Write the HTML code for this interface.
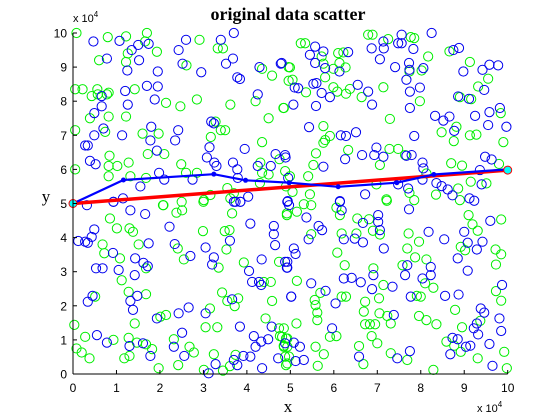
<!DOCTYPE html>
<html><head><meta charset="utf-8"><style>
body{margin:0;background:#fff;width:560px;height:420px;overflow:hidden}
svg{display:block}
</style></head><body>
<svg id="chart" width="560" height="420" xmlns="http://www.w3.org/2000/svg" font-family="Liberation Sans, sans-serif">
<rect width="560" height="420" fill="#fff"/>
<text x="288" y="20" text-anchor="middle" font-family="Liberation Serif, serif" font-weight="bold" font-size="18">original data scatter</text>
<text x="288" y="412" text-anchor="middle" font-family="Liberation Serif, serif" font-size="17">x</text>
<text x="46" y="202" text-anchor="middle" font-family="Liberation Serif, serif" font-size="17">y</text>
<text x="73" y="22" font-size="11">x 10<tspan dy="-5" font-size="8">4</tspan></text>
<text x="477" y="412" font-size="11">x 10<tspan dy="-5" font-size="8">4</tspan></text>
<g id="marks"></g>
<g id="axes"></g>
</svg>
<script>
const xTicks=[0,1,2,3,4,5,6,7,8,9,10];
const yTicks=[0,1,2,3,4,5,6,7,8,9,10];
const blueX=[0.47,1.07,0.78,1.25,1.35,1.5,1.74,1.52,1.95,1.2,1.26,1.7,1.95,1.88,0.66,0.66,0.49,0.7,0.49,0.28,0.34,0.39,0.52,1.13,1.8,1.78,1.93,2.42,2.35,1.98,2.1,1.55,1.15,0.93,0.32,2.43,2.6,2.52,2.95,3.4,3.7,3.52,3.68,3.78,3.84,4.25,4.29,4.78,3.95,3.14,3.18,3.24,3.08,3.25,3.3,3.68,3.78,3.79,4.25,4.55,4.66,4.89,3.7,3.85,4.03,2.75,4.93,
8.25,7.56,7.56,7.48,7.14,7.15,6.87,7.83,7.73,7.74,7.41,7.06,8.06,7.67,7.75,7.98,7.75,6.88,6.79,6.55,5.91,5.72,5.6,5.53,5.18,5.1,5.07,5.59,5.57,5.45,5.57,5.76,6.13,5.8,6.33,4.8,8.75,8.88,8.98,9.42,9.58,9.78,9.46,8.86,9.11,9.58,9.82,9.25,9.55,9.97,8.33,8.52,8.66,8.77,5.43,6.16,6.28,6.51,7.85,5.76,4.88,6.26,6.65,6.93,6.98,7.14,7.67,7.79,8.04,8.06,9.48,9.63,9.36,4.95,4.94,6.14,6.72,7.48,7.71,8.04,8.36,8.48,8.62,8.73,9.12,9.23,9.4,
1.32,1.66,0.49,0.43,0.12,0.28,0.34,0.92,1.05,0.53,0.68,1.43,1.62,1.72,1.74,1.42,0.45,0.34,1.48,1.32,1.38,0.55,0.78,1.3,1.61,1.78,1.93,2.22,2.34,2.7,2.66,2.43,2.51,2.32,2.56,3.05,3.24,3.2,3.05,3.28,3.12,3.61,3.66,3.84,3.7,3.78,3.92,4.08,4.05,4.08,4.12,4.28,4.33,4.34,4.16,4.2,4.35,4.33,4.49,4.57,4.72,4.62,4.62,4.65,4.93,4.93,5.02,0.93,3.74,3.85,4.97,
7.73,6.14,6.18,7.02,7.02,6.67,7.06,5.65,5.73,5.37,5.42,6.23,6.48,6.67,7.15,8.18,8.54,9.0,9.08,9.29,9.42,9.6,8.85,9.08,5.08,5.12,4.88,4.92,5.48,5.81,5.02,6.23,6.41,6.62,6.88,6.91,7.35,7.64,7.69,8.04,8.23,8.23,7.77,8.56,8.87,6.04,7.38,5.96,9.38,9.46,9.29,9.22,9.32,9.81,9.85,9.87,9.58,8.73,8.85,9.04,9.14,8.68,9.65,7.75,7.46,6.58,5.08,5.22,5.12,5.31,4.88];
const blueY=[9.75,9.77,9.25,8.9,9.5,9.65,9.68,9.2,8.87,8.3,7.9,8.45,8.43,8.05,8.15,7.85,7.65,7.2,7.0,6.7,6.7,6.25,6.15,7.0,7.25,6.85,6.55,7.15,6.85,5.9,5.7,5.5,5.15,5.05,4.95,9.5,9.8,9.1,8.85,9.8,10.0,9.1,9.25,8.7,8.65,8.2,9.0,9.1,6.6,6.65,7.4,7.35,6.35,6.2,6.1,6.2,6.0,5.75,6.1,6.1,6.45,6.35,5.05,5.05,5.2,5.7,5.05,
10.0,9.95,9.7,9.7,9.75,9.55,9.55,9.53,9.12,8.92,9.0,9.23,8.97,8.63,8.28,8.4,7.8,7.9,8.28,8.48,8.12,8.24,8.53,8.51,8.38,8.4,7.9,7.86,9.12,9.36,9.6,9.46,8.87,8.97,9.44,9.12,9.5,9.56,8.87,8.92,9.07,9.05,8.33,8.14,8.07,7.68,7.8,7.57,7.3,7.25,7.57,7.43,7.55,7.13,7.24,7.0,6.98,7.09,6.98,6.08,6.42,6.3,6.42,6.42,6.64,6.37,6.4,6.42,6.2,6.03,6.37,6.29,5.98,5.75,5.07,5.07,5.27,5.56,5.44,5.7,5.6,5.51,5.41,5.24,5.15,5.08,5.56,
4.8,4.69,4.24,4.02,3.9,3.88,3.85,3.55,3.05,3.1,3.1,3.39,3.26,3.16,3.83,2.9,2.29,2.12,2.29,2.14,1.88,1.14,0.92,0.82,0.9,0.53,1.63,4.32,3.81,3.46,1.95,1.78,1.21,0.8,0.53,3.71,3.42,3.21,1.78,0.29,0.02,3.91,2.19,1.39,0.41,0.26,0.53,0.51,3.02,4.41,2.7,2.7,2.61,3.36,1.11,0.8,0.17,0.95,1.02,1.39,0.46,4.34,4.1,3.78,3.29,3.12,2.27,5.05,5.05,5.05,4.95,
4.83,5.05,4.8,4.66,4.46,4.43,4.22,4.34,4.22,4.59,3.95,3.95,3.97,3.86,3.68,4.17,3.95,4.17,3.85,3.65,3.88,4.49,3.39,3.03,3.68,3.52,3.29,3.12,2.66,2.44,2.27,2.8,2.82,2.69,2.49,2.9,2.56,2.9,3.19,2.8,3.14,2.9,2.27,2.29,2.33,2.07,1.73,1.34,1.92,1.8,1.48,1.34,1.16,1.63,1.26,2.61,0.88,1.06,1.02,0.8,0.83,0.58,0.24,0.67,0.46,0.51,0.92,0.8,0.38,0.41,0.9];
const greenX=[0.08,0.8,1.22,1.7,1.66,1.93,1.26,1.22,0.6,1.42,0.05,0.22,0.43,0.56,0.57,0.78,0.82,0.39,0.82,1.22,2.14,2.47,2.85,2.61,2.91,3.33,3.45,3.62,0.05,0.74,1.6,1.97,1.72,2.1,0.84,0.82,1.02,1.28,0.82,1.32,1.68,2.49,2.6,2.85,3.17,3.28,3.4,3.5,4.35,4.31,4.35,4.5,4.75,4.5,4.85,4.2,4.35,4.58,4.96,4.96,0.05,3.55,3.7,3.62,3.16,3.0,2.08,2.5,4.3,4.9,
5.24,5.34,6.79,6.89,7.25,7.77,7.85,8.17,8.66,5.72,6.1,6.22,5.76,6.13,6.27,5.99,5.8,4.99,5.05,5.36,5.99,6.08,6.28,6.37,6.64,7.14,7.74,8.02,7.98,7.29,9.13,9.55,9.32,8.9,9.16,9.84,4.84,5.76,5.91,5.76,5.8,6.33,7.28,7.48,7.64,5.59,5.53,7.06,8.48,8.76,8.82,9.13,9.28,9.9,8.7,8.95,9.8,4.88,5.41,5.05,5.45,7.21,7.74,7.85,8.35,8.86,9.15,9.51,8.9,6.98,8.13,4.99,
0.03,0.08,0.2,0.38,0.28,0.51,0.68,0.72,0.85,1.01,1.08,1.12,1.3,1.38,1.51,1.68,1.68,1.28,0.93,1.28,1.47,1.68,1.82,1.42,1.18,1.3,1.97,2.01,2.14,2.07,2.38,2.51,2.41,2.55,2.42,2.32,2.68,2.78,2.99,3.35,3.05,3.32,3.15,3.24,3.01,3.45,3.61,3.43,3.55,3.72,3.8,3.53,3.49,3.6,3.66,3.74,3.93,4.39,4.55,4.58,4.43,4.74,4.76,4.85,4.93,4.93,4.74,4.92,4.93,4.97,3.01,
4.92,5.15,5.31,5.48,6.06,6.14,6.54,6.81,7.22,6.9,7.06,6.18,6.52,5.48,6.08,6.25,6.91,7.72,7.96,7.69,7.87,7.58,8.13,8.1,8.29,7.91,8.0,7.14,7.04,6.72,6.69,7.05,7.23,7.31,6.72,6.83,6.95,6.87,7.0,6.58,6.18,6.28,5.69,5.56,5.58,5.62,5.62,5.15,5.14,5.91,6.06,5.58,5.77,5.63,6.68,7.31,7.69,8.29,7.96,8.13,8.36,8.79,8.95,9.37,8.59,8.77,8.92,9.31,9.92,9.98,9.85,9.73,9.85,9.73,9.72,9.31,9.19,9.1,9.85,8.92,9.02,4.85,4.81,4.85,4.88,4.9,4.9];
const greenY=[10.0,9.88,9.9,10.0,9.75,9.45,9.4,9.15,9.2,8.35,8.35,8.35,8.15,8.35,8.2,8.2,8.25,7.5,7.55,7.55,7.95,7.85,8.05,9.05,9.8,9.55,9.55,7.9,7.15,7.1,7.05,7.05,6.45,6.45,6.4,6.1,6.1,6.2,5.8,5.8,5.75,6.15,5.9,5.9,6.95,7.4,7.15,7.15,6.8,6.2,5.9,5.85,6.3,7.5,7.8,8.0,8.95,8.75,9.0,8.6,6.0,5.45,5.3,5.15,5.25,5.05,4.95,5.05,5.6,5.5,
9.7,9.7,9.95,9.95,9.82,9.88,9.85,9.31,9.46,9.31,9.41,9.43,9.1,9.12,8.99,8.95,8.7,8.99,8.63,8.26,8.41,8.28,8.22,8.36,8.12,8.41,8.87,8.9,8.0,7.48,9.15,8.66,8.43,8.12,8.06,7.65,7.8,7.27,6.98,6.78,6.86,6.57,6.6,6.6,6.42,6.47,6.13,6.13,7.09,6.83,7.25,7.0,7.02,6.8,6.18,6.11,6.16,5.95,5.8,5.34,5.27,5.12,5.31,5.1,5.26,5.44,5.64,5.59,5.1,5.56,5.88,5.8,
1.44,0.75,0.63,0.46,1.09,2.27,3.8,3.54,4.56,4.27,3.39,2.75,4.27,4.17,3.8,3.1,2.34,2.41,1.0,1.06,0.92,0.87,0.73,1.48,0.46,0.53,0.17,1.68,1.73,4.95,4.73,4.8,3.68,3.36,0.26,1.02,0.8,0.63,4.19,3.12,1.37,1.37,1.92,0.58,0.12,0.1,0.23,2.39,2.14,1.99,2.22,3.65,4.19,4.22,4.71,0.56,3.27,2.7,2.7,2.14,1.63,1.34,1.11,0.83,0.8,1.04,3.29,4.71,0.31,0.51,5.1,
4.66,4.76,4.98,4.95,4.88,4.66,4.56,4.54,5.08,4.2,4.09,4.12,4.12,4.1,3.56,3.19,3.1,4.12,3.88,3.68,3.42,3.19,3.36,2.66,2.53,2.29,2.27,2.61,2.22,2.12,1.83,1.78,1.7,1.48,1.46,1.46,1.46,1.11,0.9,0.82,2.27,2.27,2.38,2.17,2.02,1.8,1.58,2.73,1.48,1.09,1.11,0.8,0.58,0.24,0.29,0.61,0.41,0.12,1.7,1.58,1.46,1.88,1.37,1.56,0.95,0.83,0.65,0.46,0.65,0.17,2.15,2.43,3.51,3.21,3.65,4.2,4.39,4.66,4.53,3.73,3.63,1.34,1.09,0.8,0.51,0.26,1.04];
const fitX=[0,1.16,3.24,3.97,4.97,6.1,7.45,8.3,10];
const fitY=[5.0,5.69,5.86,5.68,5.61,5.49,5.61,5.85,6.0];
const regX=[0,10];
const regY=[5.0,5.98];

const X0=73,X1=507.7,Y0=374,Y1=33;
const sx=v=>X0+(v-0)/10*(X1-X0);
const sy=v=>Y0-(v-0)/10*(Y0-Y1);
const NS='http://www.w3.org/2000/svg';
const marks=document.getElementById('marks');
const axes=document.getElementById('axes');
function mk(tag,parent){const e=document.createElementNS(NS,tag);parent.appendChild(e);return e;}

for(let i=0;i<greenX.length;i++){
  const c=mk('circle',marks);
  c.setAttribute('cx',sx(greenX[i]));c.setAttribute('cy',sy(greenY[i]));c.setAttribute('r',4.6);
  c.setAttribute('fill','none');c.setAttribute('stroke','#00ee00');c.setAttribute('stroke-width','1');
  
  
}
for(let i=0;i<blueX.length;i++){
  const c=mk('circle',marks);
  c.setAttribute('cx',sx(blueX[i]));c.setAttribute('cy',sy(blueY[i]));c.setAttribute('r',4.6);
  c.setAttribute('fill','none');c.setAttribute('stroke','#0000ee');c.setAttribute('stroke-width','1');
  
  
}
const reg=mk('polyline',marks);
reg.setAttribute('points',regX.map((v,i)=>sx(v)+','+sy(regY[i])).join(' '));
reg.setAttribute('fill','none');reg.setAttribute('stroke','#ff0000');reg.setAttribute('stroke-width','3.5');


const fit=mk('polyline',marks);
fit.setAttribute('points',fitX.map((v,i)=>sx(v)+','+sy(fitY[i])).join(' '));
fit.setAttribute('fill','none');fit.setAttribute('stroke','#0000ff');fit.setAttribute('stroke-width','2.2');


for(let i=0;i<fitX.length;i++){
  const d=mk('circle',marks);
  d.setAttribute('cx',sx(fitX[i]));d.setAttribute('cy',sy(fitY[i]));d.setAttribute('r',2.5);d.setAttribute('fill','#0000ff');
  
  
}
const e0=mk('circle',marks);
e0.setAttribute('cx',sx(regX[0]));e0.setAttribute('cy',sy(regY[0]));e0.setAttribute('r',4);e0.setAttribute('fill','#00ffff');e0.setAttribute('stroke','#ff0000');


const e1=mk('circle',marks);
e1.setAttribute('cx',sx(regX[1]));e1.setAttribute('cy',sy(regY[1]));e1.setAttribute('r',4);e1.setAttribute('fill','#00ffff');e1.setAttribute('stroke','#ff0000');



const xa=mk('line',axes);
xa.setAttribute('x1',X0);xa.setAttribute('x2',X1);xa.setAttribute('y1',Y0);xa.setAttribute('y2',Y0);xa.setAttribute('stroke','#000');


const ya=mk('line',axes);
ya.setAttribute('x1',X0);ya.setAttribute('x2',X0);ya.setAttribute('y1',Y0);ya.setAttribute('y2',Y1);ya.setAttribute('stroke','#000');


xTicks.forEach(t=>{
  const l=mk('line',axes);
  l.setAttribute('x1',sx(t));l.setAttribute('x2',sx(t));l.setAttribute('y1',Y0);l.setAttribute('y2',Y0-4);l.setAttribute('stroke','#000');
  
  
  const tx=mk('text',axes);
  tx.setAttribute('x',sx(t));tx.setAttribute('y',Y0+18);tx.setAttribute('text-anchor','middle');tx.setAttribute('font-size','12');
  tx.textContent=t;
  
  
});
yTicks.forEach(t=>{
  const l=mk('line',axes);
  l.setAttribute('x1',X0);l.setAttribute('x2',X0+4);l.setAttribute('y1',sy(t));l.setAttribute('y2',sy(t));l.setAttribute('stroke','#000');
  
  
  const tx=mk('text',axes);
  tx.setAttribute('x',X0-6);tx.setAttribute('y',sy(t)+4.5);tx.setAttribute('text-anchor','end');tx.setAttribute('font-size','12');
  tx.textContent=t;
  
  
});
</script>
</body></html>
